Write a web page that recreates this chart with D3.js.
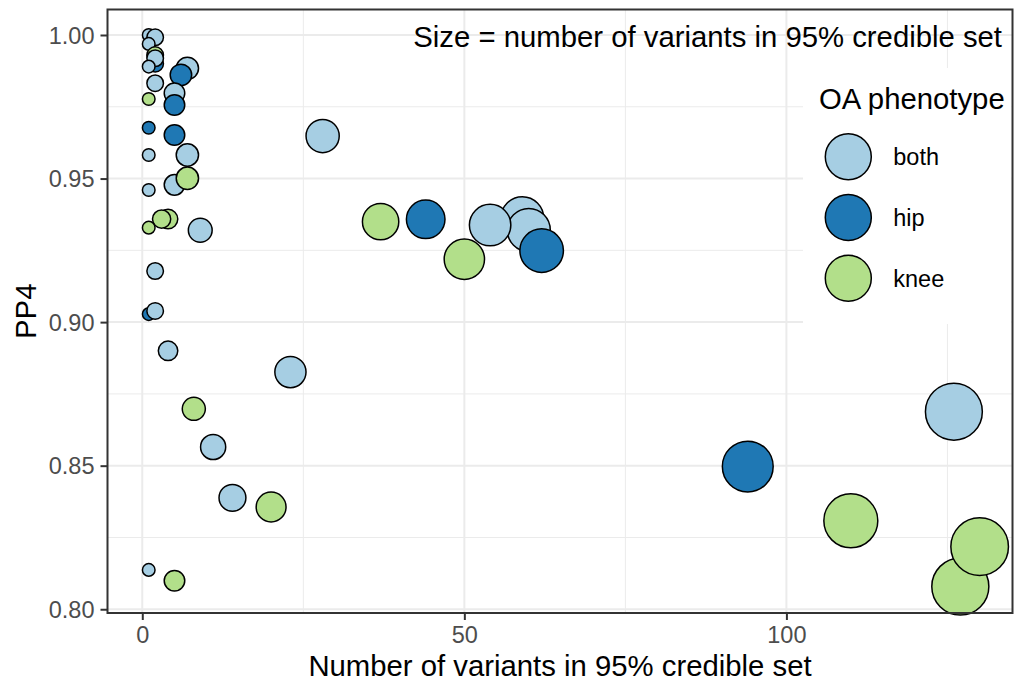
<!DOCTYPE html>
<html>
<head>
<meta charset="utf-8">
<script src="https://cdn.jsdelivr.net/npm/d3@7"></script>
<style>
  body { margin: 0; background: #fff; }
  text { font-family: "Liberation Sans", Arial, sans-serif; }
</style>
</head>
<body>
<div id="chart"></div>
<script>
// data, drawn back to front
var variants = [1, 2, 1, 2, 2, 2, 1, 2, 7, 6,
                1, 5, 5, 1, 5, 1, 7, 5, 7, 1,
                4, 3, 1, 9, 2, 1, 2, 4, 8, 11,
                14, 1, 5, 20, 23, 28, 37, 44, 59, 60,
                62, 54, 50, 94, 126, 110, 127, 130];
var pp4 = [1.000, 0.9992, 0.9969, 0.993, 0.990, 0.9919, 0.989, 0.9832, 0.9884, 0.9861,
           0.9777, 0.9797, 0.9756, 0.9677, 0.9652, 0.9582, 0.9582, 0.9478, 0.9501, 0.946,
           0.9359, 0.9359, 0.9329, 0.932, 0.9178, 0.9028, 0.9039, 0.890, 0.8698, 0.8565,
           0.8388, 0.8137, 0.8099, 0.8356, 0.8826, 0.9648, 0.935, 0.9358, 0.9362, 0.9321,
           0.9249, 0.9338, 0.9219, 0.8497, 0.8688, 0.8308, 0.8079, 0.8218];
var phenotype = ["both", "both", "both", "knee", "hip", "both", "both", "both", "both", "hip",
                 "knee", "both", "hip", "hip", "hip", "both", "both", "both", "knee", "both",
                 "knee", "knee", "knee", "both", "both", "hip", "both", "both", "knee", "both",
                 "both", "both", "knee", "knee", "both", "both", "knee", "hip", "both", "both",
                 "hip", "both", "knee", "hip", "both", "knee", "knee", "knee"];

var groups = ["both", "hip", "knee"];
var groupColors = ["#A6CEE3", "#1F78B4", "#B2DF8A"];
var xTicks = [0, 50, 100];
var xMinor = [25, 75, 125];
var yTicks = [0.80, 0.85, 0.90, 0.95, 1.00];
var yMinor = [0.825, 0.875, 0.925, 0.975];

var data = variants.map(function(v, i) {
  return {n: v, pp4: pp4[i], group: phenotype[i]};
});

var width = 1016, height = 688;
var panel = {left: 107.5, top: 9.5, right: 1012.5, bottom: 613};

var svg = d3.select("#chart")
  .append("svg")
    .attr("width", width)
    .attr("height", height);

var x = d3.scaleLinear()
  .domain([-5.4, 135.1])
  .range([panel.left, panel.right]);

var y = d3.scaleLinear()
  .domain([0.79869, 1.00888])
  .range([panel.bottom, panel.top]);

// area style size scale, like ggplot's scale_size
var r = d3.scaleSqrt()
  .domain([0, d3.max(variants) - d3.min(variants)])
  .range([6.3, 28.8]);

var color = d3.scaleOrdinal()
  .domain(groups)
  .range(groupColors);

// grid
var grid = svg.append("g");
grid.selectAll(".xminor").data(xMinor).enter().append("line")
  .attr("x1", function(d) { return x(d); }).attr("x2", function(d) { return x(d); })
  .attr("y1", panel.top).attr("y2", panel.bottom)
  .attr("stroke", "#EBEBEB").attr("stroke-width", 1);
grid.selectAll(".yminor").data(yMinor).enter().append("line")
  .attr("y1", function(d) { return y(d); }).attr("y2", function(d) { return y(d); })
  .attr("x1", panel.left).attr("x2", panel.right)
  .attr("stroke", "#EBEBEB").attr("stroke-width", 1);
grid.selectAll(".xmajor").data(xTicks).enter().append("line")
  .attr("x1", function(d) { return x(d); }).attr("x2", function(d) { return x(d); })
  .attr("y1", panel.top).attr("y2", panel.bottom)
  .attr("stroke", "#EBEBEB").attr("stroke-width", 2);
grid.selectAll(".ymajor").data(yTicks).enter().append("line")
  .attr("y1", function(d) { return y(d); }).attr("y2", function(d) { return y(d); })
  .attr("x1", panel.left).attr("x2", panel.right)
  .attr("stroke", "#EBEBEB").attr("stroke-width", 2);

// points
svg.append("g")
  .selectAll("circle")
  .data(data)
  .enter()
  .append("circle")
    .attr("cx", function(d) { return x(d.n); })
    .attr("cy", function(d) { return y(d.pp4); })
    .attr("r", function(d) { return r(d.n - d3.min(variants)); })
    .attr("fill", function(d) { return color(d.group); })
    .attr("stroke", "#000")
    .attr("stroke-width", 1.5);

// legend sits inside the panel on a white box
var legend = svg.append("g");
legend.append("rect")
  .attr("x", 803).attr("y", 68)
  .attr("width", panel.right - 1 - 803).attr("height", 256)
  .attr("fill", "#fff");
legend.append("text")
  .attr("x", 819).attr("y", 109)
  .attr("font-size", "29.3px")
  .text("OA phenotype");
var keys = legend.selectAll(".key")
  .data(groups)
  .enter()
  .append("g")
    .attr("transform", function(d, i) { return "translate(848.3," + (156.7 + i * 60.8) + ")"; });
keys.append("circle")
  .attr("r", 23)
  .attr("fill", function(d) { return color(d); })
  .attr("stroke", "#000")
  .attr("stroke-width", 1.5);
keys.append("text")
  .attr("x", 45).attr("y", 8.5)
  .attr("font-size", "23.5px")
  .text(function(d) { return d; });

// annotation
svg.append("text")
  .attr("x", 1002).attr("y", 47)
  .attr("text-anchor", "end")
  .attr("font-size", "29.3px")
  .text("Size = number of variants in 95% credible set");

// panel border
svg.append("rect")
  .attr("x", panel.left).attr("y", panel.top)
  .attr("width", panel.right - panel.left)
  .attr("height", panel.bottom - panel.top)
  .attr("fill", "none")
  .attr("stroke", "#333333")
  .attr("stroke-width", 2);

// axes
var xAxis = svg.append("g")
  .attr("transform", "translate(0," + panel.bottom + ")")
  .call(d3.axisBottom(x).tickValues(xTicks).tickSize(7).tickPadding(6).tickFormat(d3.format("d")));
var yAxis = svg.append("g")
  .attr("transform", "translate(" + panel.left + ",0)")
  .call(d3.axisLeft(y).tickValues(yTicks).tickSize(7).tickPadding(6).tickFormat(d3.format(".2f")));

[xAxis, yAxis].forEach(function(a) {
  a.select(".domain").remove();
  a.selectAll(".tick line").attr("stroke", "#333333").attr("stroke-width", 2);
  a.selectAll(".tick text")
    .attr("fill", "#4D4D4D")
    .attr("font-size", "23.5px")
    .attr("font-family", "Liberation Sans, Arial, sans-serif");
});
xAxis.selectAll(".tick text").attr("dy", null).attr("y", 30);
yAxis.selectAll(".tick text").attr("dy", "0.35em");

// axis titles
svg.append("text")
  .attr("x", (panel.left + panel.right) / 2).attr("y", 676)
  .attr("text-anchor", "middle")
  .attr("font-size", "29.3px")
  .text("Number of variants in 95% credible set");
svg.append("text")
  .attr("transform", "translate(36," + (panel.top + panel.bottom) / 2 + ") rotate(-90)")
  .attr("text-anchor", "middle")
  .attr("font-size", "29.3px")
  .text("PP4");
</script>
</body>
</html>
